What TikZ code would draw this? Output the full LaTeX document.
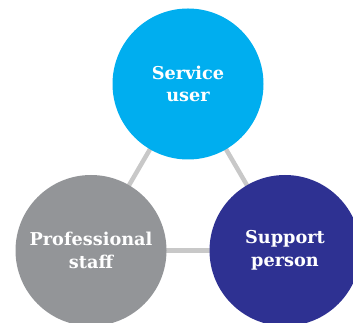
\documentclass[tikz,border=0pt]{standalone}
\usepackage{fontspec}
\setmainfont{DejaVu Serif}
\usetikzlibrary{backgrounds}
\definecolor{cyanc}{HTML}{00AEEF}
\definecolor{grayc}{HTML}{939598}
\definecolor{bluec}{HTML}{2E3192}
\definecolor{linec}{HTML}{C8C8C8}
\tikzset{
  role/.style={circle, minimum size=151pt, inner sep=0pt, outer sep=0pt,
    text=white, align=center, font=\fontsize{17.7}{22.5}\selectfont\bfseries},
  link/.style={draw=linec, line width=4.5pt}
}
\begin{document}
\begin{tikzpicture}[x=1pt,y=1pt]
\useasboundingbox (0,0) rectangle (353,323);
\node[role, fill=cyanc] (su) at (188,239) {Service\\user};
\node[role, fill=grayc] (ps) at (91,72.5) {Professional\\staff};
\node[role, fill=bluec] (sp) at (285,72.5) {Support\\person};
\begin{scope}[on background layer]
\draw[link] (su.center) -- (ps.center);
\draw[link] (su.center) -- (sp.center);
\draw[link] (ps.center) -- (sp.center);
\end{scope}
\end{tikzpicture}
\end{document}
